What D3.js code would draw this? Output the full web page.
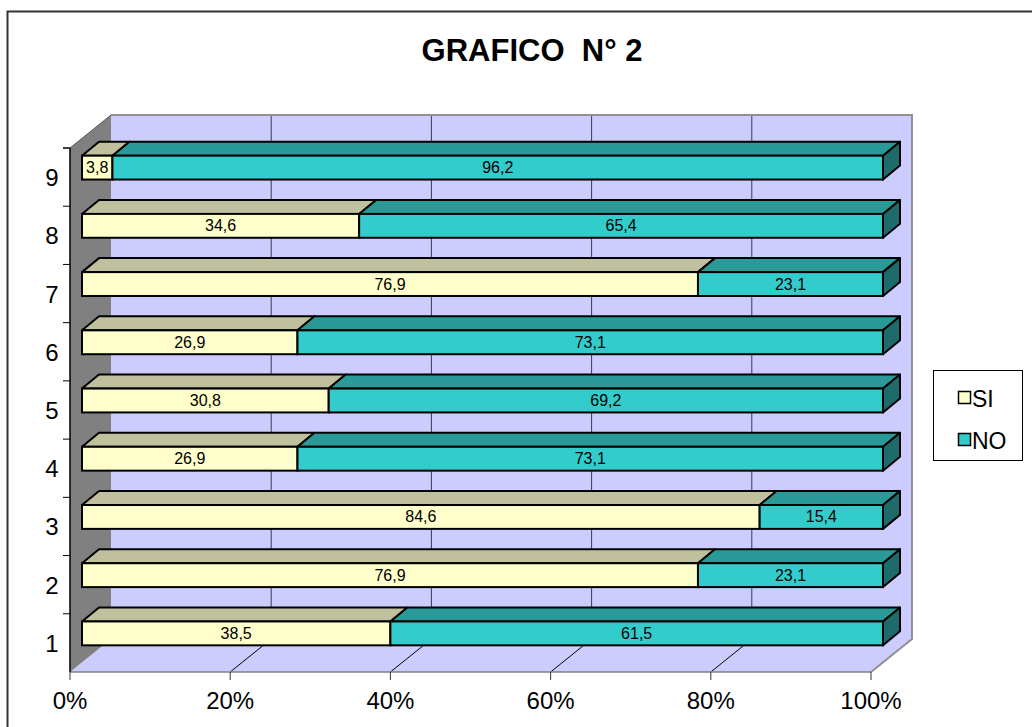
<!DOCTYPE html>
<html>
<head>
<meta charset="utf-8">
<script src="https://cdn.jsdelivr.net/npm/d3@7"></script>
<style>
  body { margin: 0; background: #fff; }
  svg { font-family: Arial, "Liberation Sans", sans-serif; }
</style>
</head>
<body>
<div id="chart"></div>
<script>
// data
var categories = ["1", "2", "3", "4", "5", "6", "7", "8", "9"];
var siValues = [38.5, 76.9, 84.6, 26.9, 30.8, 26.9, 76.9, 34.6, 3.8];
var noValues = [61.5, 23.1, 15.4, 73.1, 69.2, 73.1, 23.1, 65.4, 96.2];
var seriesNames = ["SI", "NO"];
var xTicks = [0, 20, 40, 60, 80, 100];

function init(){
    var w = 1032;
    var h = 727;

    // colours: front, top, side
    var colors = {
        SI: {front: "#FFFFCC", top: "#C0C09E", side: "#8C8C70"},
        NO: {front: "#33CCCC", top: "#2A9A98", side: "#1E6B6B"}
    };

    // front plane of the plot area and its depth
    var x = d3.scaleLinear().domain([0, 100]).range([70, 871]);
    var y = d3.scaleBand().domain(categories).range([672, 148]);
    var dx = 41, dy = -33;          // wall depth
    var offX = 12, offY = -9.5;     // bar front face offset
    var bx = 17, by = -14;          // bar depth

    var svg = d3.select("#chart")
                .append("svg")
                .attr("width", w)
                .attr("height", h);

    // chart border
    svg.append("rect")
        .attr("x", 7.5).attr("y", 11.5)
        .attr("width", 1100).attr("height", 800)
        .attr("fill", "none")
        .attr("stroke", "#333")
        .attr("stroke-width", 2);

    // title
    svg.append("text")
        .attr("x", 532).attr("y", 61)
        .attr("text-anchor", "middle")
        .attr("font-size", 31)
        .attr("font-weight", "bold")
        .attr("xml:space", "preserve")
        .text("GRAFICO  N° 2");

    var top = y.range()[1], bot = y.range()[0];
    var x0 = x(0), x1 = x(100);

    // back wall
    svg.append("rect")
        .attr("x", x0 + dx).attr("y", top + dy)
        .attr("width", x1 - x0).attr("height", bot - top)
        .attr("fill", "#CCCCFF");

    // floor
    svg.append("polygon")
        .attr("points", [[x0, bot], [x1, bot], [x1 + dx, bot + dy], [x0 + dx, bot + dy]].join(" "))
        .attr("fill", "#CCCCFF");

    // side wall
    svg.append("polygon")
        .attr("points", [[x0, top], [x0 + dx, top + dy], [x0 + dx, bot + dy], [x0, bot]].join(" "))
        .attr("fill", "#808080");

    // gridlines on back wall and floor
    xTicks.slice(1, -1).forEach(function(t){
        svg.append("line")
            .attr("x1", x(t) + dx).attr("x2", x(t) + dx)
            .attr("y1", top + dy).attr("y2", bot + dy)
            .attr("stroke", "#3a3a50").attr("stroke-width", 1);
        svg.append("line")
            .attr("x1", x(t)).attr("y1", bot)
            .attr("x2", x(t) + dx).attr("y2", bot + dy)
            .attr("stroke", "#000").attr("stroke-width", 1);
    });

    // wall outlines
    svg.append("path")
        .attr("d", "M" + (x0 + dx) + "," + (top + dy) + "H" + (x1 + dx) + "V" + (bot + dy) + "L" + x1 + "," + bot)
        .attr("fill", "none").attr("stroke", "#909090").attr("stroke-width", 2);
    svg.append("line")
        .attr("x1", x0).attr("y1", bot).attr("x2", x1).attr("y2", bot)
        .attr("stroke", "#808080").attr("stroke-width", 1.5);
    svg.append("path")
        .attr("d", "M" + x0 + "," + top + "L" + (x0 + dx) + "," + (top + dy))
        .attr("stroke", "#555").attr("fill", "none");

    // axes
    svg.append("line")
        .attr("x1", x0).attr("x2", x0).attr("y1", top).attr("y2", bot)
        .attr("stroke", "#000").attr("stroke-width", 1.5);

    var yb = categories.map(function(c){ return y(c); }).concat([top]);
    yb.forEach(function(v){
        svg.append("line")
            .attr("x1", x0 - 7).attr("x2", x0).attr("y1", v).attr("y2", v)
            .attr("stroke", "#000");
    });
    svg.selectAll("text.cat")
        .data(categories)
        .enter()
        .append("text")
        .attr("class", "cat")
        .attr("x", 52)
        .attr("y", function(d){ return y(d) + y.bandwidth() / 2 + 9; })
        .attr("text-anchor", "middle")
        .attr("font-size", 24)
        .text(function(d){ return d; });

    xTicks.forEach(function(t){
        svg.append("line")
            .attr("x1", x(t)).attr("x2", x(t)).attr("y1", bot).attr("y2", bot + 8)
            .attr("stroke", "#333");
        svg.append("text")
            .attr("x", x(t)).attr("y", 709)
            .attr("text-anchor", "middle")
            .attr("font-size", 24)
            .text(t + "%");
    });

    // bars
    var bh = y.bandwidth() * 0.41;
    categories.forEach(function(c, i){
        var segs = [
            {name: "SI", a: 0, b: siValues[i], v: siValues[i]},
            {name: "NO", a: siValues[i], b: siValues[i] + noValues[i], v: noValues[i]}
        ];
        var yc = y(c) + y.bandwidth() / 2 + offY;
        var yt = yc - bh / 2, ybot = yc + bh / 2;
        var g = svg.append("g");
        segs.forEach(function(s, k){
            var xa = x(s.a) + offX, xb = x(s.b) + offX;
            var col = colors[s.name];
            // top face
            g.append("polygon")
                .attr("points", [[xa, yt], [xa + bx, yt + by], [xb + bx, yt + by], [xb, yt]].join(" "))
                .attr("fill", col.top).attr("stroke", "#000").attr("stroke-width", 2)
                .attr("stroke-linejoin", "round");
            // right side on the last segment
            if (k == segs.length - 1) {
                g.append("polygon")
                    .attr("points", [[xb, yt], [xb + bx, yt + by], [xb + bx, ybot + by], [xb, ybot]].join(" "))
                    .attr("fill", col.side).attr("stroke", "#000").attr("stroke-width", 2)
                    .attr("stroke-linejoin", "round");
            }
            // front face
            g.append("rect")
                .attr("x", xa).attr("y", yt)
                .attr("width", xb - xa).attr("height", bh)
                .attr("fill", col.front).attr("stroke", "#000").attr("stroke-width", 2);
            g.append("text")
                .attr("x", (xa + xb) / 2).attr("y", yc + 5.5)
                .attr("text-anchor", "middle")
                .attr("font-size", 16)
                .text(String(s.v).replace(".", ","));
        });
    });

    // legend
    var lg = svg.append("g");
    lg.append("rect")
        .attr("x", 933.5).attr("y", 370.5)
        .attr("width", 89).attr("height", 90)
        .attr("fill", "#fff").attr("stroke", "#000").attr("stroke-width", 1);
    seriesNames.forEach(function(n, i){
        var yy = 391 + i * 42;
        lg.append("rect")
            .attr("x", 958.5).attr("y", yy + 0.5)
            .attr("width", 12).attr("height", 12)
            .attr("fill", colors[n].front).attr("stroke", "#000").attr("stroke-width", 1.5);
        lg.append("text")
            .attr("x", 972).attr("y", yy + 16)
            .attr("font-size", 23)
            .text(n);
    });
}
window.onload = init;
</script>
</body>
</html>
